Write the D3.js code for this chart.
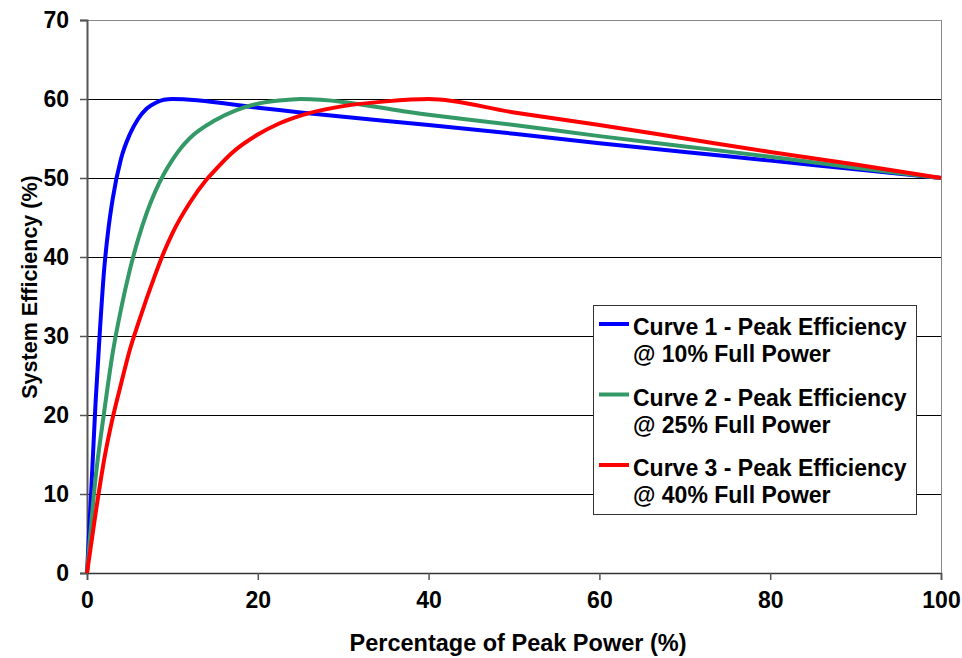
<!DOCTYPE html>
<html>
<head>
<meta charset="utf-8">
<script src="https://cdn.jsdelivr.net/npm/d3@7"></script>
<style>
  body { margin: 0; background: #fff; }
  svg text { font-family: "Liberation Sans", Arial, sans-serif; font-weight: bold; fill: #000; }
</style>
</head>
<body>
<div id="chart"></div>
<script>
// percentage of peak power (x) and system efficiency (y)
const curve1X = [0, 0.5, 1, 1.5, 2, 2.5, 3, 4, 5, 6, 7, 8, 9, 10, 20, 25, 40, 50, 60, 70, 80, 90, 100];
const curve1Y = [0, 10.5, 21.5, 30.5, 38.3, 43.5, 47.3, 52.5, 55.5, 57.5, 58.8, 59.5, 59.9, 60, 58.9, 58.3, 56.7, 55.6, 54.4, 53.3, 52.2, 51.1, 50];

const curve2X = [0, 1, 2, 3, 4, 5, 6, 7, 8, 9, 10, 11, 12, 15, 17.5, 20, 22.5, 25, 40, 50, 60, 70, 80, 90, 100];
const curve2Y = [0, 12, 20.3, 27.8, 33.5, 38.3, 42.3, 45.6, 48.3, 50.5, 52.3, 53.8, 55.0, 57.3, 58.6, 59.4, 59.8, 60, 58, 56.7, 55.3, 54, 52.7, 51.3, 50];

const curve3X = [0, 1, 2, 3, 4, 5, 6, 8, 9, 10, 12, 14, 15, 17, 20, 22.5, 25, 30, 35, 40, 50, 60, 70, 80, 90, 100];
const curve3Y = [0, 7.5, 14.3, 19.6, 24, 28.2, 31.6, 37.8, 40.6, 43, 46.8, 49.8, 51, 53.2, 55.5, 56.9, 57.9, 59.1, 59.7, 60, 58.3, 56.7, 55, 53.3, 51.7, 50];

const seriesNames = [
  ['Curve 1 - Peak Efficiency', '@ 10% Full Power'],
  ['Curve 2 - Peak Efficiency', '@ 25% Full Power'],
  ['Curve 3 - Peak Efficiency', '@ 40% Full Power']
];
const seriesColors = ['#0000ff', '#339966', '#ff0000'];

const xTicks = [0, 20, 40, 60, 80, 100];
const yTicks = [0, 10, 20, 30, 40, 50, 60, 70];

const W = 962, H = 658;
const margin = { top: 20, right: 21, bottom: 85, left: 87 };

const svg = d3.select('#chart').append('svg')
  .attr('width', W)
  .attr('height', H);

const x = d3.scaleLinear().domain([0, 100]).range([margin.left, W - margin.right]);
const y = d3.scaleLinear().domain([0, 70]).range([H - margin.bottom, margin.top]);

// gridlines
svg.append('g')
  .selectAll('line')
  .data(yTicks.filter(d => d > 0))
  .join('line')
  .attr('x1', x(0)).attr('x2', x(100))
  .attr('y1', d => y(d)).attr('y2', d => y(d))
  .attr('stroke', d => d === 70 ? '#888' : '#000')
  .attr('stroke-width', 1)
  .attr('shape-rendering', 'crispEdges');

// right frame
svg.append('line')
  .attr('x1', x(100)).attr('x2', x(100))
  .attr('y1', y(70)).attr('y2', y(0))
  .attr('stroke', '#888')
  .attr('shape-rendering', 'crispEdges');

// axes
const yAxis = svg.append('g')
  .attr('transform', `translate(${x(0)},0)`)
  .call(d3.axisLeft(y).tickValues(yTicks).tickSize(7).tickPadding(11));
const xAxis = svg.append('g')
  .attr('transform', `translate(0,${y(0)})`)
  .call(d3.axisBottom(x).tickValues(xTicks).tickSize(7).tickPadding(12));

yAxis.select('.domain').attr('stroke', '#555').attr('stroke-width', 2);
xAxis.select('.domain').attr('stroke', '#333').attr('stroke-width', 1.5);
svg.selectAll('.tick line').attr('stroke', '#555').attr('stroke-width', 1.5);
svg.selectAll('.tick text').style('font-size', '23px').attr('fill', '#000');

// curves
const allSeries = [
  curve1X.map((d, i) => [d, curve1Y[i]]),
  curve2X.map((d, i) => [d, curve2Y[i]]),
  curve3X.map((d, i) => [d, curve3Y[i]])
];

const line = d3.line()
  .x(d => x(d[0]))
  .y(d => y(d[1]))
  .curve(d3.curveMonotoneX);

svg.append('g')
  .selectAll('path')
  .data(allSeries)
  .join('path')
  .attr('d', line)
  .attr('fill', 'none')
  .attr('stroke', (d, i) => seriesColors[i])
  .attr('stroke-width', 4)
  .attr('stroke-linejoin', 'round');

// axis titles
svg.append('text')
  .attr('x', 518)
  .attr('y', 651)
  .attr('text-anchor', 'middle')
  .style('font-size', '23.5px')
  .text('Percentage of Peak Power (%)');

svg.append('text')
  .attr('transform', 'translate(37,287) rotate(-90)')
  .attr('text-anchor', 'middle')
  .style('font-size', '21.5px')
  .text('System Efficiency (%)');

// legend
const legend = svg.append('g').attr('transform', 'translate(593,305)');
legend.append('rect')
  .attr('width', 323).attr('height', 209)
  .attr('fill', '#fff')
  .attr('stroke', '#333')
  .attr('stroke-width', 1)
  .attr('shape-rendering', 'crispEdges');

const item = legend.selectAll('g.item')
  .data(seriesNames)
  .join('g')
  .attr('class', 'item')
  .attr('transform', (d, i) => `translate(0,${19 + i * 70.5})`);

item.append('line')
  .attr('x1', 6).attr('x2', 36)
  .attr('stroke', (d, i) => seriesColors[i])
  .attr('stroke-width', 4);

item.append('text')
  .attr('x', 40).attr('y', 11)
  .style('font-size', '23px')
  .text(d => d[0]);

item.append('text')
  .attr('x', 40).attr('y', 38)
  .style('font-size', '23px')
  .text(d => d[1]);
</script>
</body>
</html>
